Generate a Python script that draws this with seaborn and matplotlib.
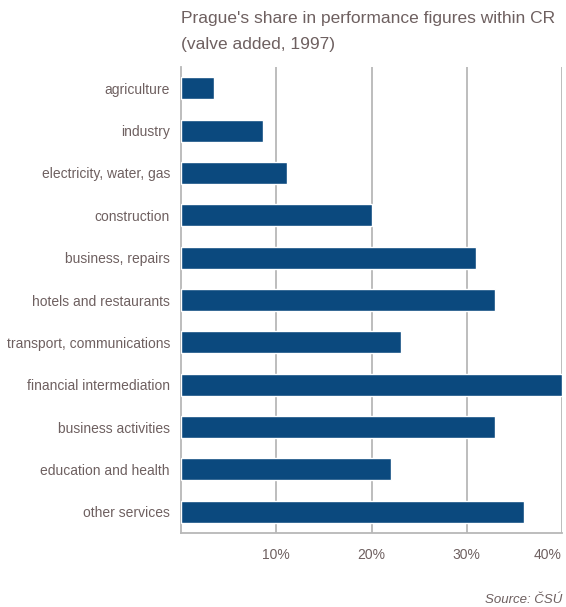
import matplotlib
matplotlib.use("Agg")
import matplotlib.pyplot as plt
import seaborn as sns
import pandas as pd
from matplotlib import font_manager

categories = ["agriculture", "industry", "electricity, water, gas", "construction",
              "business, repairs", "hotels and restaurants", "transport, communications",
              "financial intermediation", "business activities", "education and health",
              "other services"]
values = [3.5, 8.6, 11.1, 20.0, 31.0, 33.0, 23.1, 40.0, 33.0, 22.0, 36.0]
xticks = [10, 20, 30, 40]
xticklabels = ["10%", "20%", "30%", "40%"]

sns.set_theme(style="white")
names = {f.name for f in font_manager.fontManager.ttflist}
fam = "Liberation Sans Narrow" if "Liberation Sans Narrow" in names else "Liberation Sans"
plt.rcParams["font.family"] = [fam, "DejaVu Sans"]

txt = "#6e6060"
bar_c = "#0b497e"
grid_c = "#b8b8b8"

df = pd.DataFrame({"cat": categories, "val": values})
fig = plt.figure(figsize=(5.66, 6.07), dpi=100)
ax = fig.add_axes([181/566, 74/607, 381/566, 466/607])
sns.barplot(data=df, x="val", y="cat", orient="h", color=bar_c, width=0.52,
            saturation=1, ax=ax, zorder=3)
ax.set_xlim(0, 40)
ax.set_ylim(10.5, -0.5)
ax.set_xlabel("")
ax.set_ylabel("")
ax.set_xticks(xticks)
ax.set_xticklabels(xticklabels, color=txt, fontsize=10)
ax.get_xticklabels()[-1].set_horizontalalignment("right")
ax.tick_params(axis="x", length=0, pad=11)
ax.tick_params(axis="y", length=0, pad=8, labelsize=10, labelcolor=txt)
for x in xticks:
    ax.axvline(x, color=grid_c, lw=1.3, zorder=1)
for s in ["top", "right"]:
    ax.spines[s].set_visible(False)
for s in ["left", "bottom"]:
    ax.spines[s].set_color(grid_c)
    ax.spines[s].set_linewidth(1.3)

fig.text(181/566, 1 - 18/607, "Prague's share in performance figures within CR",
         color=txt, fontsize=12.5, va="center", ha="left")
fig.text(181/566, 1 - 45/607, "(valve added, 1997)",
         color=txt, fontsize=12.5, va="center", ha="left")
fig.text(562/566, 1 - 600/607, "Source: ČSÚ", color=txt, fontsize=9.5,
         style="italic", va="center", ha="right")

fig.savefig("out.png", dpi=100)
